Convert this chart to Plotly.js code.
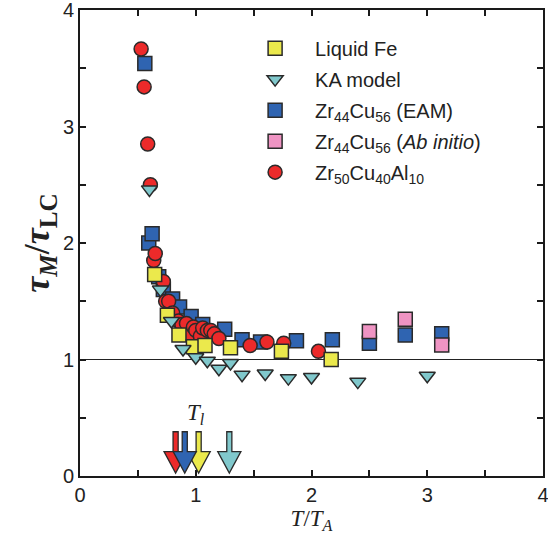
<!DOCTYPE html>
<html>
<head>
<meta charset="utf-8">
<script src="https://cdn.plot.ly/plotly-3.0.1.min.js"></script>
<style>html,body{margin:0;padding:0;background:#fff;}#chart{width:548px;height:534px;}</style>
</head>
<body>
<div id="chart"></div>
<script>
// ---- data (T/T_A, tau_M/tau_LC) ----
const feX = [0.645, 0.755, 0.855, 0.98, 1.08, 1.30, 1.74, 2.17];
const feY = [1.73, 1.38, 1.21, 1.11, 1.12, 1.10, 1.07, 1.00];

const kaX = [0.60, 0.695, 0.79, 0.89, 1.00, 1.10, 1.20, 1.30, 1.40, 1.60, 1.80, 2.00, 2.40, 3.00];
const kaY = [2.46, 1.60, 1.33, 1.09, 1.02, 0.99, 0.92, 0.97, 0.87, 0.88, 0.84, 0.85, 0.81, 0.86];

const eamX = [0.56, 0.594, 0.623, 0.68, 0.72, 0.80, 0.86, 0.96, 1.06, 1.25, 1.40, 1.56, 1.87, 2.18, 2.50, 2.81, 3.125];
const eamY = [3.54, 2.00, 2.08, 1.71, 1.60, 1.52, 1.45, 1.37, 1.30, 1.26, 1.17, 1.15, 1.16, 1.17, 1.14, 1.21, 1.22];

const abX = [2.50, 2.81, 3.125];
const abY = [1.24, 1.345, 1.125];

const zcaX = [0.528, 0.554, 0.585, 0.608, 0.637, 0.65, 0.72, 0.74, 0.766, 0.80, 0.85, 0.88, 0.92, 0.95, 0.98, 1.00, 1.04, 1.06, 1.10, 1.13, 1.16, 1.20, 1.47, 1.615, 1.76, 2.06];
const zcaY = [3.665, 3.34, 2.85, 2.50, 1.85, 1.91, 1.67, 1.50, 1.50, 1.40, 1.33, 1.30, 1.31, 1.21, 1.28, 1.25, 1.20, 1.27, 1.25, 1.25, 1.22, 1.18, 1.12, 1.15, 1.14, 1.07];

// T_l arrows (T_l / T_A) for each system
const tlSystems = ["Zr50Cu40Al10", "Liquid Fe", "Zr44Cu56 (EAM)", "KA model"];
const tlValues  = [0.826, 1.025, 0.905, 1.29];

const xTicks = [0, 1, 2, 3, 4];
const yTicks = [0, 1, 2, 3, 4];

// ---- styles ----
const COL = {fe: "#ebe94c", ka: "#80c8cc", eam: "#2f64b1", ab: "#ef94c3", zca: "#ec2a2a"};
const tlColors = [COL.zca, COL.fe, COL.eam, COL.ka];
const edge = {color: "#2a2a2a", width: 1.5};

function tr(x, y, name, sym, col, size, rank) {
  return {x: x, y: y, name: name, type: "scatter", mode: "markers",
    legendgroup: "g" + rank, legendrank: rank,
    marker: {symbol: sym, color: col, size: size, line: edge}, cliponaxis: false};
}

const traces = [
  tr(eamX, eamY, "Zr<sub>44</sub>Cu<sub>56</sub> (EAM)", "square", COL.eam, 14, 3),
  tr(abX, abY, "Zr<sub>44</sub>Cu<sub>56</sub> (<i>Ab initio</i>)", "square", COL.ab, 14, 4),
  tr(zcaX, zcaY, "Zr<sub>50</sub>Cu<sub>40</sub>Al<sub>10</sub>", "circle", COL.zca, 14, 5),
  tr(feX, feY, "Liquid Fe", "square", COL.fe, 14, 1),
  tr(kaX, kaY, "KA model", "triangle-down", COL.ka, 14, 2)
];

// arrow shapes built from tlValues
const stemHalf = 0.022, headHalf = 0.1, stemTop = 0.38, headTop = 0.21, tipY = 0.025;
const shapes = [{type: "line", xref: "x", yref: "y", x0: 0, x1: 4, y0: 1, y1: 1, line: {color: "#222", width: 1.2}, layer: "below"}];
tlValues.forEach(function (v, i) {
  const p = "M" + (v - stemHalf) + "," + stemTop + " L" + (v + stemHalf) + "," + stemTop +
    " L" + (v + stemHalf) + "," + headTop + " L" + (v + headHalf) + "," + headTop +
    " L" + v + "," + tipY + " L" + (v - headHalf) + "," + headTop +
    " L" + (v - stemHalf) + "," + headTop + " Z";
  shapes.push({type: "path", xref: "x", yref: "y", path: p, fillcolor: tlColors[i], line: {color: "#2a2a2a", width: 1.3}, layer: "above"});
});

const axisCommon = {
  showgrid: false, zeroline: false, showline: true, linecolor: "#1a1a1a", linewidth: 2,
  mirror: "ticks", ticks: "inside", ticklen: 6, tickwidth: 2, tickcolor: "#1a1a1a",
  ticklabeloverflow: "allow",
  tickfont: {family: "Liberation Sans, Arial, sans-serif", size: 20, color: "#222"},
  minor: {dtick: 0.5, ticks: "inside", ticklen: 6, tickwidth: 2, tickcolor: "#1a1a1a"}
};

const layout = {
  width: 548, height: 534,
  margin: {l: 80, r: 5, t: 10, b: 58},
  paper_bgcolor: "#fff", plot_bgcolor: "#fff",
  showlegend: true,
  legend: {x: 0.335, y: 0.96, xanchor: "left", yanchor: "top", traceorder: "grouped",
    tracegroupgap: 2, itemwidth: 70, bgcolor: "rgba(0,0,0,0)",
    font: {family: "Liberation Sans, Arial, sans-serif", size: 20, color: "#222"}},
  xaxis: Object.assign({}, axisCommon, {range: [0, 4], tickvals: xTicks, ticktext: xTicks.map(String),
    title: {text: "<i>T</i>/<i>T<sub>A</sub></i>", standoff: 8,
      font: {family: "Liberation Serif, Times New Roman, serif", size: 23, color: "#222"}}}),
  yaxis: Object.assign({}, axisCommon, {range: [0, 4], tickvals: yTicks, ticktext: yTicks.map(String),
    title: {text: "<b><i>τ<sub>M</sub></i>/<i>τ</i><sub>LC</sub></b>", standoff: 2,
      font: {family: "Liberation Serif, Times New Roman, serif", size: 36, color: "#222"}}}),
  shapes: shapes,
  annotations: [{xref: "x", yref: "y", x: 1.0, y: 0.53, showarrow: false,
    text: "<i>T<sub>l</sub></i>", font: {family: "Liberation Serif, Times New Roman, serif", size: 23, color: "#222"}}]
};

Plotly.newPlot("chart", traces, layout, {displayModeBar: false, staticPlot: true});
</script>
</body>
</html>
